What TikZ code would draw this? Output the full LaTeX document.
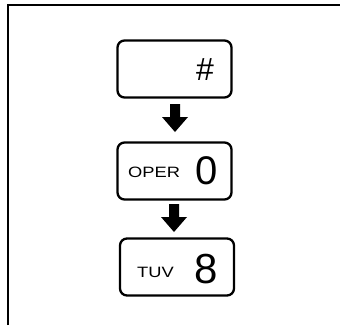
\documentclass[tikz,border=0pt]{standalone}
\usepackage{fontspec}
\setmainfont{Liberation Sans}
\tikzset{
  keybox/.style={draw,line width=2.3pt,rounded corners=7pt,minimum width=114pt,minimum height=57pt,inner sep=0pt},
  keylabel/.style={font=\fontsize{15}{15}\selectfont,anchor=west,inner sep=0pt,xscale=1.22,transform shape},
  digit/.style={inner sep=0pt}
}
\begin{document}
\begin{tikzpicture}[x=1pt,y=-1pt]
\useasboundingbox (0,0) rectangle (340,325);
\draw[line width=1.8pt] (8,325) -- (8,5) -- (340,5);
\node[keybox] (k1) at (174.5,69) {};
\node[keybox] (k2) at (174.5,171) {};
\node[keybox] (k3) at (177,267) {};
\node[digit,font=\fontsize{32}{32}\selectfont] (h) at (205,70) {\#};
\node[keylabel] (op) at (128,172) {OPER};
\node[digit,font=\fontsize{40}{40}\selectfont] (z) at (207,171) {0};
\node[keylabel] (tv) at (137,272) {TUV};
\node[digit,font=\fontsize{42}{42}\selectfont] (e) at (206,269) {8};
\coordinate (a1) at (175,104);
\coordinate (a2) at (174,204);
\foreach \c in {a1,a2} {
  \fill ([xshift=-5pt]\c) -- ([xshift=5pt]\c) -- ([xshift=5pt,yshift=-13pt]\c) -- ([xshift=13pt,yshift=-13pt]\c) -- ([yshift=-28pt]\c) -- ([xshift=-13pt,yshift=-13pt]\c) -- ([xshift=-5pt,yshift=-13pt]\c) -- cycle;
}
\end{tikzpicture}
\end{document}
